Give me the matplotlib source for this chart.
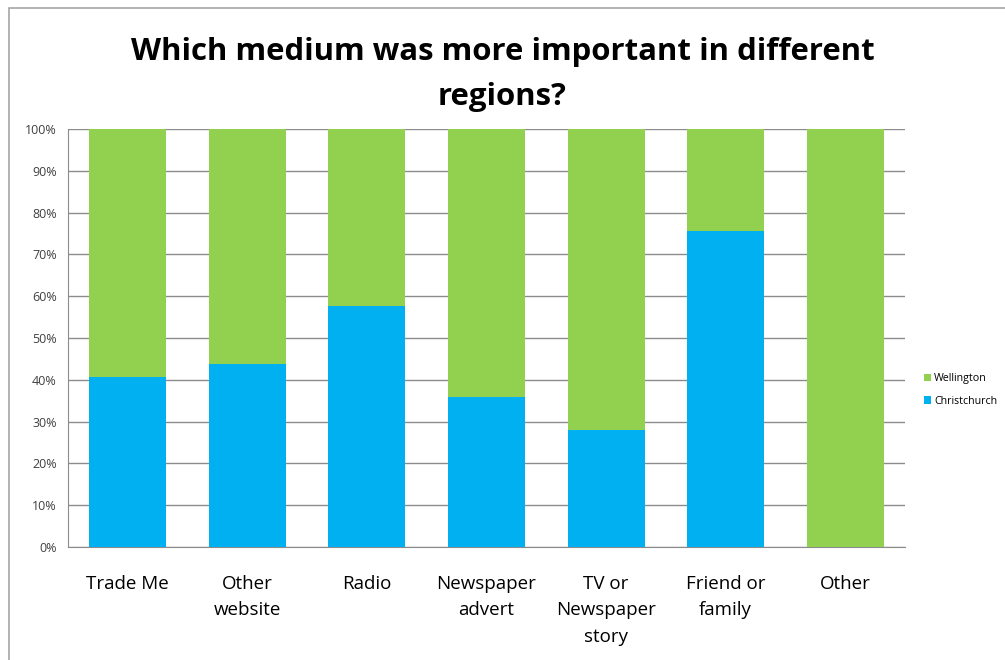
import numpy as np
import matplotlib.pyplot as plt
from matplotlib.patches import Rectangle, Patch

# share of respondents per medium, by region
categories = ['Trade Me', 'Other\nwebsite', 'Radio', 'Newspaper\nadvert',
              'TV or\nNewspaper\nstory', 'Friend or\nfamily', 'Other']
christchurch = [40.7, 43.8, 57.7, 36.0, 28.0, 75.6, 0.0]
wellington = [100 - v for v in christchurch]
yticks = [0, 10, 20, 30, 40, 50, 60, 70, 80, 90, 100]

blue = '#00b0f0'
green = '#92d050'
grid_col = '#8c8c8c'

plt.rcParams['font.family'] = ['Open Sans', 'DejaVu Sans']

fig = plt.figure(figsize=(10.05, 6.6), dpi=100)
ax = fig.add_axes([68 / 1005, 1 - 547 / 660, (905 - 68) / 1005, (547 - 129) / 660])

x = np.arange(len(categories))
ax.bar(x, christchurch, width=0.645, color=blue, zorder=3)
ax.bar(x, wellington, bottom=christchurch, width=0.645, color=green, zorder=3)

ax.set_xlim(-0.5, len(categories) - 0.5)
ax.set_ylim(0, 100)
ax.set_yticks(yticks)
ax.set_yticklabels([f'{t}%' for t in yticks], fontsize=9, color='#404040')
ax.set_xticks(x)
ax.set_xticklabels(categories, fontsize=13.5, linespacing=1.6, va='top')
ax.tick_params(axis='y', length=0, pad=8)
ax.tick_params(axis='x', length=0, pad=20)
ax.yaxis.grid(True, color=grid_col, linewidth=1.0, zorder=0)

for side in ['top', 'right']:
    ax.spines[side].set_visible(False)
ax.spines['left'].set_color(grid_col)
ax.spines['bottom'].set_color(grid_col)

fig.text(0.5, 1 - 52 / 660, 'Which medium was more important in different',
         ha='center', va='center', fontsize=22.4, fontweight='bold')
fig.text(0.5, 1 - 97 / 660, 'regions?',
         ha='center', va='center', fontsize=22.4, fontweight='bold')

handles = [Patch(facecolor=green, label='Wellington'),
           Patch(facecolor=blue, label='Christchurch')]
fig.legend(handles=handles, loc='center left', bbox_to_anchor=(914 / 1005, 1 - 390 / 660),
           frameon=False, fontsize=7.7, handlelength=0.7, handleheight=0.7,
           handletextpad=0.3, labelspacing=1.1)

fig.add_artist(Rectangle((9 / 1005, -0.01), 1.0, 1 - 8 / 660 + 0.01,
                         transform=fig.transFigure, fill=False,
                         edgecolor='#a6a6a6', linewidth=1.2))

fig.savefig('out.png', dpi=100)
